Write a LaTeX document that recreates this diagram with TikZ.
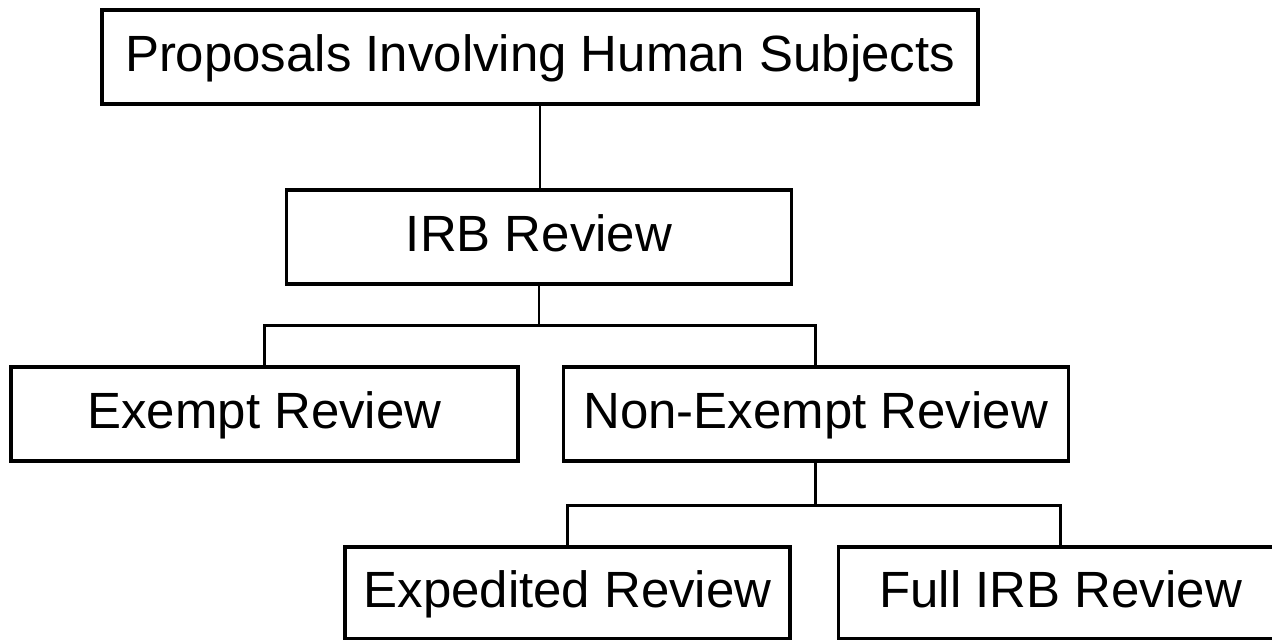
\documentclass[tikz,border=0pt]{standalone}
\usepackage{fontspec}
\setmainfont{Liberation Sans}
\usetikzlibrary{positioning, calc}
\tikzstyle{stage} = [rectangle, draw=black, line width=1.8pt, fill=white, minimum height=1.88cm, align=center, inner sep=0pt, text height=22pt, text depth=5.5pt, font=\fontsize{29}{34}\selectfont]
\tikzstyle{link} = [line width=1.5pt]

\begin{document}
\begin{tikzpicture}
    \useasboundingbox (0,0) rectangle (25.44,12.8);
    \clip (0,0) rectangle (25.44,12.8);

    % Top level
    \node (proposals) [stage, minimum width=17.52cm] at (10.8,11.66) {Proposals Involving Human Subjects};
    \node (irb) [stage, minimum width=10.1cm] at (10.78,8.06) {IRB Review};

    % Second level
    \node (exempt) [stage, minimum width=10.14cm] at (5.29,4.52) {Exempt Review};
    \node (nonexempt) [stage, minimum width=10.1cm, right=0.84cm of exempt] {Non-Exempt Review};

    % Third level
    \node (expedited) [stage, minimum width=8.9cm, minimum height=1.84cm] at (11.35,0.94) {Expedited Review};
    \node (fullirb) [stage, minimum width=8.9cm, minimum height=1.84cm, right=0.9cm of expedited] {Full IRB Review};

    % Branch points
    \coordinate (irbsplit) at ([yshift=-0.8cm]irb.south);
    \coordinate (nonsplit) at ([yshift=-0.86cm]nonexempt.south);

    % Connectors
    \draw [link] (proposals.south) -- (proposals.south |- irb.north);
    \draw [link] (irb.south) -- (irbsplit) -| (exempt.north);
    \draw [link] (irbsplit) -| (nonexempt.north);
    \draw [link] (nonexempt.south) -- (nonsplit) -| (expedited.north);
    \draw [link] (nonsplit) -| (fullirb.north);
\end{tikzpicture}
\end{document}
